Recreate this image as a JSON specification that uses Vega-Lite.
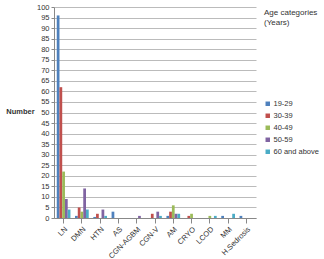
{
  "$schema": "https://vega.github.io/schema/vega-lite/v6.json",
  "width": 202,
  "height": 211,
  "autosize": "none",
  "padding": {"left": 54, "top": 7, "right": 68, "bottom": 41},
  "background": "white",
  "config": {
    "font": "Liberation Sans",
    "view": {"stroke": null},
    "axis": {"labelFont": "Liberation Sans", "labelFontSize": 7.5, "labelColor": "#333"}
  },
  "title": {
    "text": ["Age categories", "(Years)"],
    "anchor": "start",
    "frame": "group",
    "orient": "top",
    "dx": 210,
    "dy": 28,
    "baseline": "top",
    "fontSize": 8,
    "fontWeight": "normal",
    "font": "Liberation Sans",
    "color": "#333333",
    "lineHeight": 10
  },
  "data": {
    "values": [
      {"cat": "LN", "age": "19-29", "n": 96},
      {"cat": "LN", "age": "30-39", "n": 62},
      {"cat": "LN", "age": "40-49", "n": 22},
      {"cat": "LN", "age": "50-59", "n": 9},
      {"cat": "LN", "age": "60 and above", "n": 4},
      {"cat": "DMN", "age": "19-29", "n": 1},
      {"cat": "DMN", "age": "30-39", "n": 5},
      {"cat": "DMN", "age": "40-49", "n": 3},
      {"cat": "DMN", "age": "50-59", "n": 14},
      {"cat": "DMN", "age": "60 and above", "n": 4},
      {"cat": "HTN", "age": "19-29", "n": 0.5},
      {"cat": "HTN", "age": "30-39", "n": 2},
      {"cat": "HTN", "age": "40-49", "n": 0},
      {"cat": "HTN", "age": "50-59", "n": 4},
      {"cat": "HTN", "age": "60 and above", "n": 1},
      {"cat": "AS", "age": "19-29", "n": 3},
      {"cat": "CGN-AGBM", "age": "50-59", "n": 1},
      {"cat": "CGN-V", "age": "30-39", "n": 2},
      {"cat": "CGN-V", "age": "50-59", "n": 3},
      {"cat": "CGN-V", "age": "60 and above", "n": 1},
      {"cat": "AM", "age": "19-29", "n": 1},
      {"cat": "AM", "age": "30-39", "n": 3},
      {"cat": "AM", "age": "40-49", "n": 6},
      {"cat": "AM", "age": "50-59", "n": 2},
      {"cat": "AM", "age": "60 and above", "n": 2},
      {"cat": "CRYO", "age": "30-39", "n": 1},
      {"cat": "CRYO", "age": "40-49", "n": 2},
      {"cat": "LCOD", "age": "40-49", "n": 1},
      {"cat": "LCOD", "age": "60 and above", "n": 1},
      {"cat": "MM", "age": "19-29", "n": 1},
      {"cat": "MM", "age": "60 and above", "n": 2},
      {"cat": "H.Sedrosis", "age": "19-29", "n": 1}
    ]
  },
  "mark": {"type": "bar"},
  "encoding": {
    "x": {
      "field": "cat",
      "type": "nominal",
      "sort": ["LN", "DMN", "HTN", "AS", "CGN-AGBM", "CGN-V", "AM", "CRYO", "LCOD", "MM", "H.Sedrosis"],
      "scale": {"paddingInner": 0.25, "paddingOuter": 0.15},
      "axis": {"title": null, "labelAngle": -45, "ticks": true, "tickColor": "#888", "domainColor": "#888", "grid": false}
    },
    "xOffset": {
      "field": "age",
      "type": "nominal",
      "sort": ["19-29", "30-39", "40-49", "50-59", "60 and above"],
      "scale": {"domain": ["19-29", "30-39", "40-49", "50-59", "60 and above"]}
    },
    "y": {
      "field": "n",
      "type": "quantitative",
      "scale": {"domain": [0, 100], "nice": false},
      "axis": {
        "values": [0,5,10,15,20,25,30,35,40,45,50,55,60,65,70,75,80,85,90,95,100],
        "title": "Number",
        "titleAngle": 0,
        "titleFontSize": 7.5,
        "titleFontWeight": "bold",
        "titleColor": "#333",
        "titleX": -34,
        "titleY": 108,
        "titleAlign": "center",
        "gridColor": "#bbb",
        "domainColor": "#888",
        "tickColor": "#888",
        "tickSize": 3,
        "labelPadding": 2
      }
    },
    "color": {
      "field": "age",
      "type": "nominal",
      "scale": {
        "domain": ["19-29", "30-39", "40-49", "50-59", "60 and above"],
        "range": ["#4F81BD", "#C0504D", "#9BBB59", "#8064A2", "#4BACC6"]
      },
      "legend": {
        "title": null,
        "orient": "none",
        "legendX": 210,
        "legendY": 93,
        "symbolType": "square",
        "symbolSize": 20,
        "symbolStrokeWidth": 0,
        "labelFontSize": 7.5,
        "labelFont": "Liberation Sans",
        "labelColor": "#333",
        "rowPadding": 3,
        "labelOffset": 2
      }
    }
  }
}
